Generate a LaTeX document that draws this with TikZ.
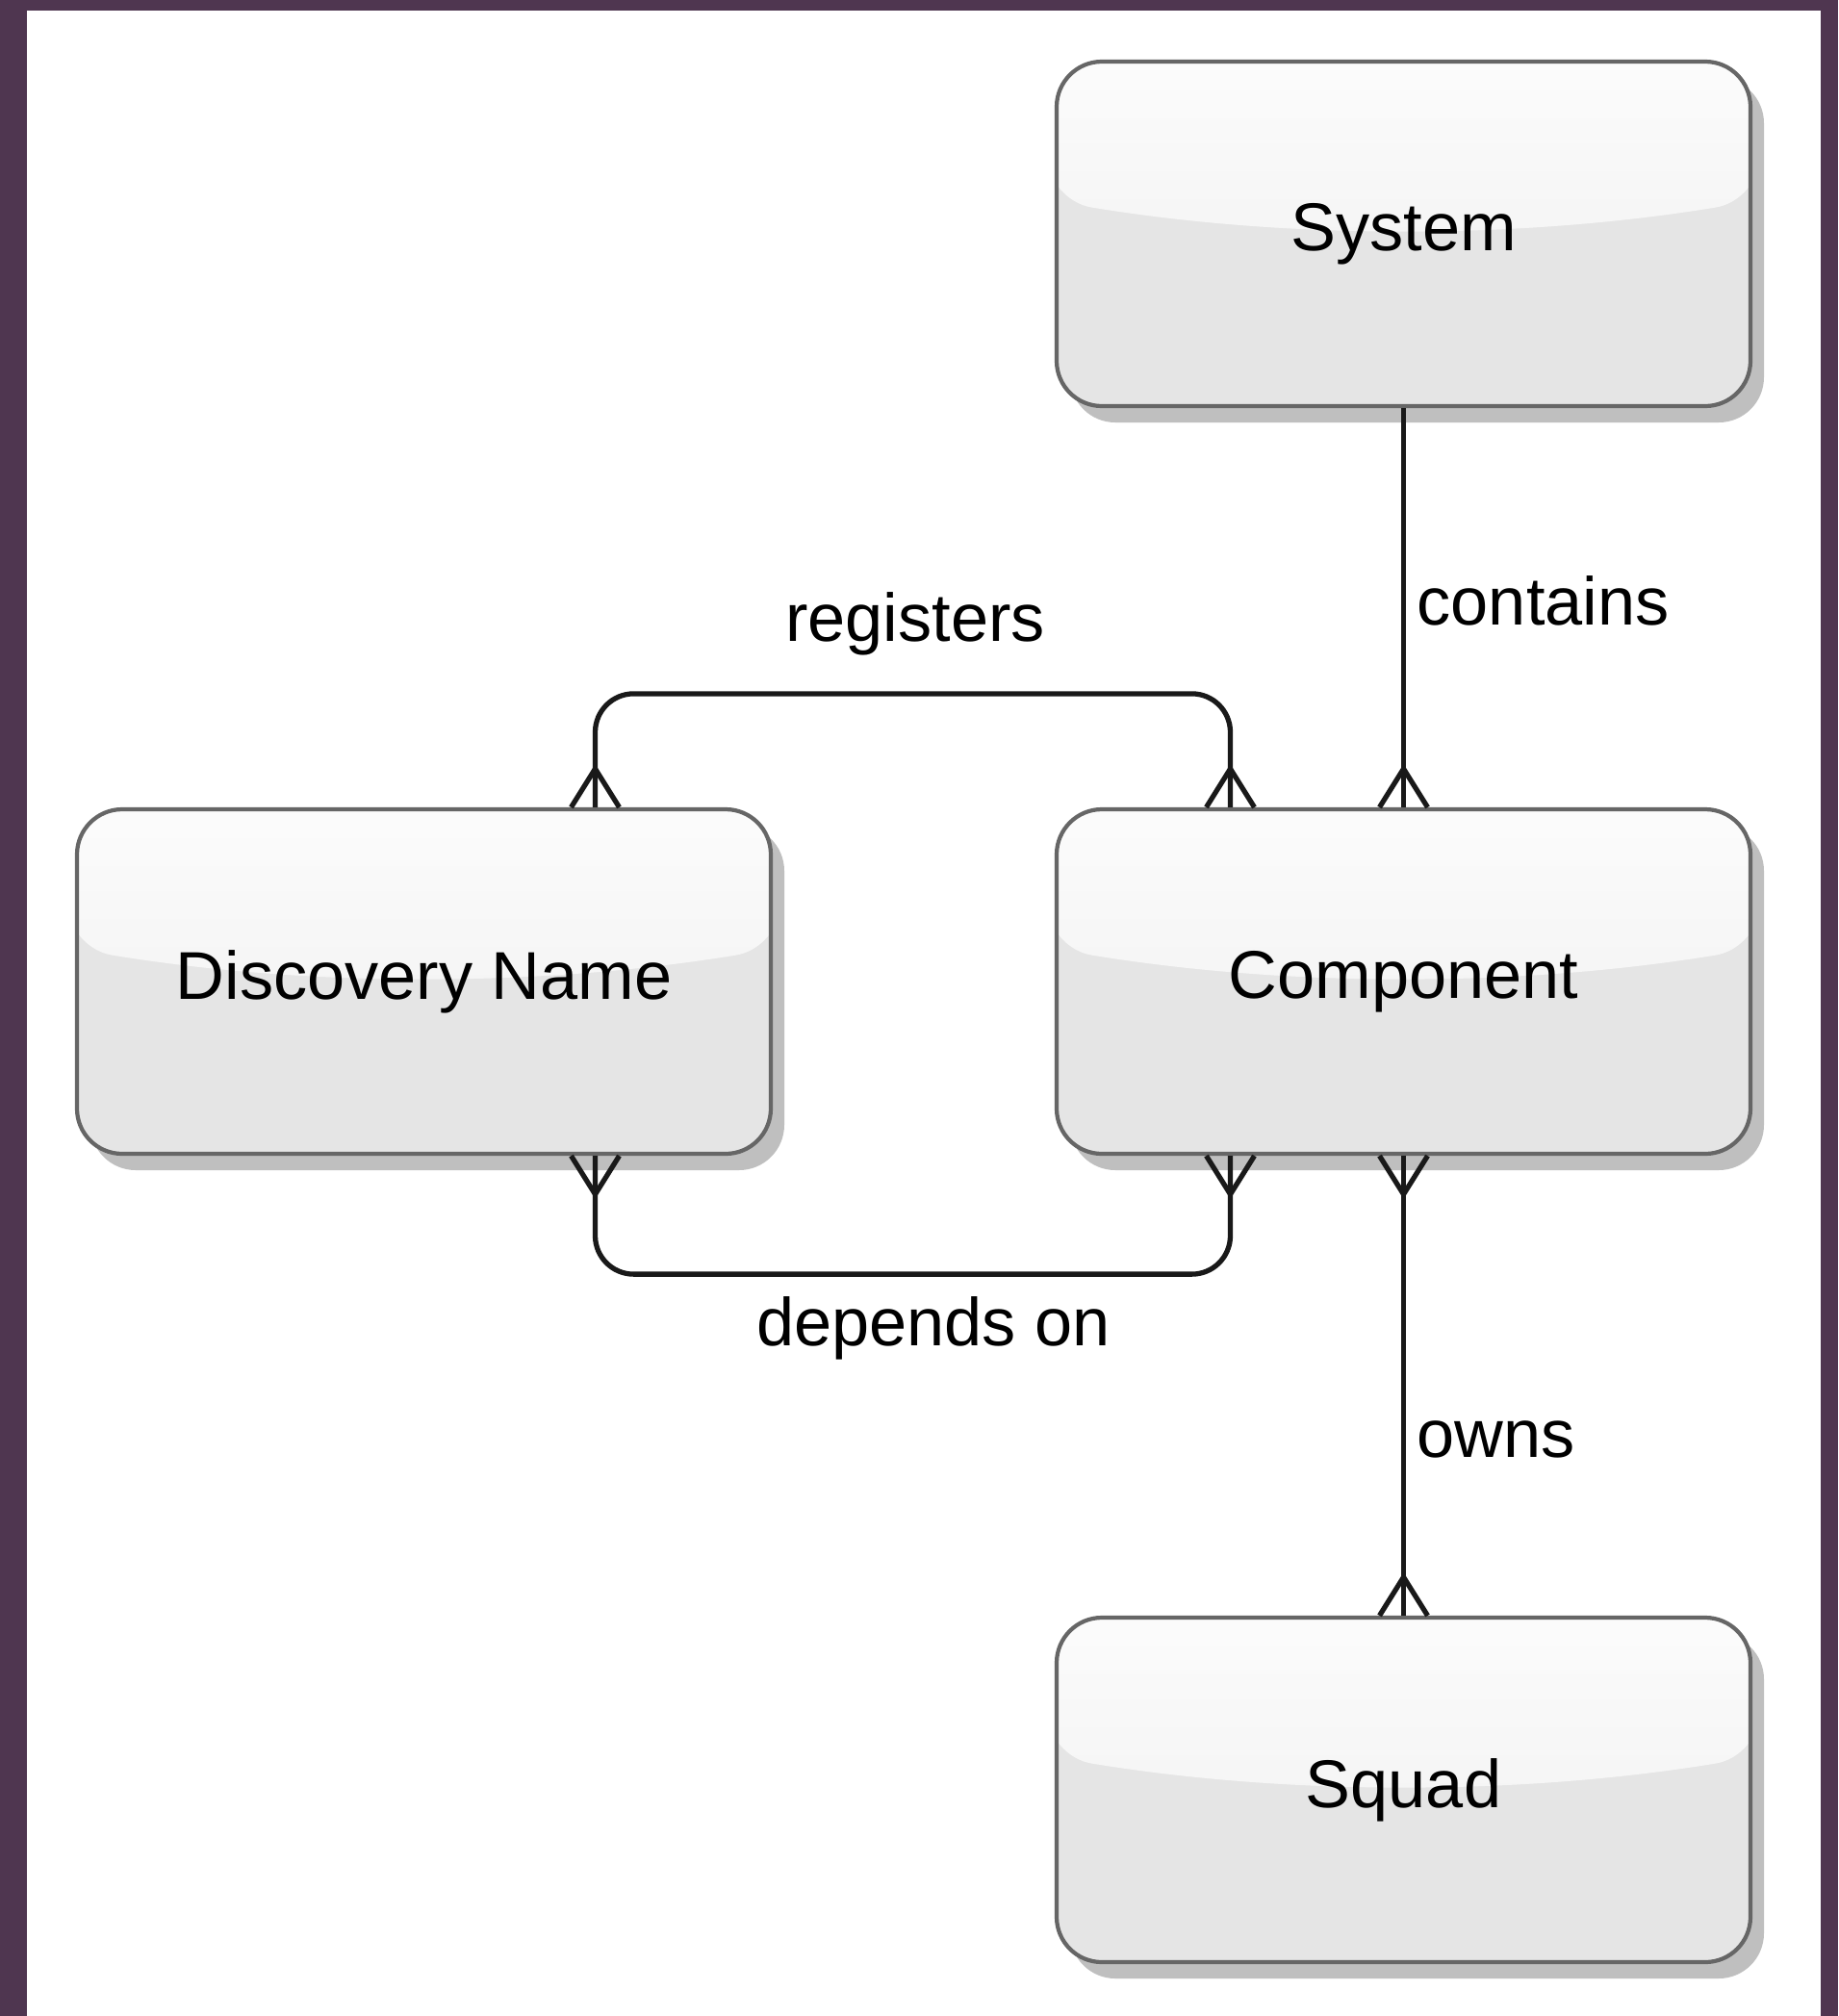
\documentclass[tikz,border=0pt]{standalone}
\usepackage{fontspec}
\setmainfont{Liberation Sans}
\usetikzlibrary{calc,shadows,fadings}
\definecolor{marco}{RGB}{79,54,80}
\definecolor{caja}{RGB}{229,229,229}
\definecolor{borde}{RGB}{102,102,102}
\tikzfading[name=brillo, top color=transparent!10, bottom color=transparent!60]
\tikzset{
  entity/.style={draw=borde, line width=1.2pt, fill=caja, rounded corners=0.47cm,
    minimum width=7.21cm, minimum height=3.58cm, font=\fontsize{20}{24}\selectfont,
    drop shadow={shadow xshift=0.14cm, shadow yshift=-0.17cm, fill=black!25, opacity=1},
    path picture={\fill[white, path fading=brillo]
      ([shift={(-0.1,0.1)}]path picture bounding box.north west) -- ([shift={(-0.1,-1.44)}]path picture bounding box.north west)
      .. controls ([shift={(2.4,-1.85)}]path picture bounding box.north west) and ([shift={(-2.4,-1.85)}]path picture bounding box.north east)
      .. ([shift={(0.1,-1.44)}]path picture bounding box.north east) -- ([shift={(0.1,0.1)}]path picture bounding box.north east) -- cycle;}},
  conn/.style={line width=1.5pt, black!90},
  rel/.style={font=\fontsize{20}{24}\selectfont, inner sep=0pt}
}
% crow's foot at a box edge: #1 point, #2 length towards the line
\newcommand{\crowfoot}[2]{\draw[conn] ($(#1)+(-0.25,0)$) -- ($(#1)+(0,#2)$) -- ($(#1)+(0.25,0)$);}
\begin{document}
\begin{tikzpicture}
    %Fondo
    \fill[marco] (0,0) rectangle (19.10,-20.95);
    \fill[white] (0.28,-0.11) rectangle (18.92,-20.95);
    %Entidades
    \node[entity] (sys)   at (14.585,-2.43)  {System};
    \node[entity] (disc)  at (4.405,-10.20)  {Discovery Name};
    \node[entity] (comp)  at (14.585,-10.20) {Component};
    \node[entity] (squad) at (14.585,-18.60) {Squad};
    %Extremos
    \coordinate (rd) at ([xshift=1.78cm]disc.north);
    \coordinate (rc) at ([xshift=-1.80cm]comp.north);
    \coordinate (dd) at ([xshift=1.78cm]disc.south);
    \coordinate (dc) at ([xshift=-1.80cm]comp.south);
    %Relaciones
    \draw[conn] (sys.south) -- (comp.north);
    \draw[conn] (comp.south) -- (squad.north);
    \draw[conn, rounded corners=0.4cm] (rd) -- ([yshift=1.18cm]rd) -| (rc);
    \draw[conn, rounded corners=0.4cm] (dd) -- ([yshift=-1.23cm]dd) -| (dc);
    \crowfoot{comp.north}{0.4}
    \crowfoot{rd}{0.4}
    \crowfoot{rc}{0.4}
    \crowfoot{dd}{-0.4}
    \crowfoot{dc}{-0.4}
    \crowfoot{comp.south}{-0.4}
    \crowfoot{squad.north}{0.4}
    %Etiquetas
    \node[rel, anchor=west] (lcont) at (14.72,-6.24)  {contains};
    \node[rel]              (lreg)  at (9.51,-6.48)   {registers};
    \node[rel]              (ldep)  at (9.70,-13.80)  {depends on};
    \node[rel, anchor=west] (lown)  at (14.72,-14.96) {owns};
\end{tikzpicture}
\end{document}
